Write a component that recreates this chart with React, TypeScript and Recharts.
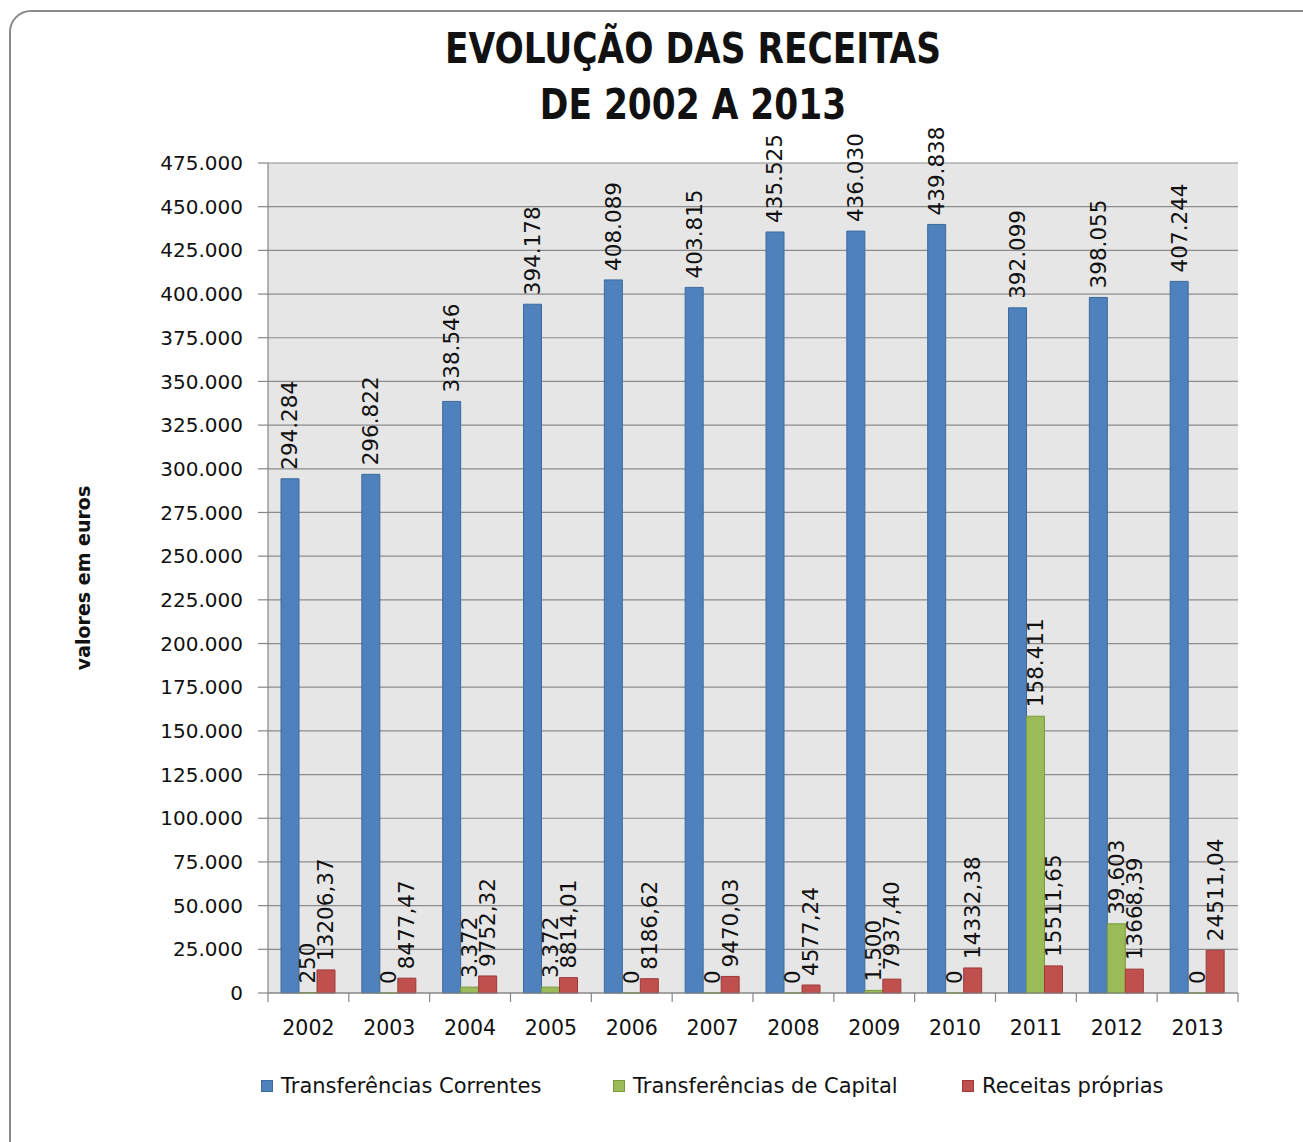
import React from "react";
import { BarChart, Bar, XAxis, YAxis, CartesianGrid, LabelList } from "recharts";

const years = ["2002", "2003", "2004", "2005", "2006", "2007", "2008", "2009", "2010", "2011", "2012", "2013"];
const correntes = [294284, 296822, 338546, 394178, 408089, 403815, 435525, 436030, 439838, 392099, 398055, 407244];
const capital = [250, 0, 3372, 3372, 0, 0, 0, 1500, 0, 158411, 39603, 0];
const proprias = [13206.37, 8477.47, 9752.32, 8814.01, 8186.62, 9470.03, 4577.24, 7937.4, 14332.38, 15511.65, 13668.39, 24511.04];
const yTicks = [0, 25000, 50000, 75000, 100000, 125000, 150000, 175000, 200000, 225000, 250000, 275000, 300000, 325000, 350000, 375000, 400000, 425000, 450000, 475000];

const seriesNames = ["Transferências Correntes", "Transferências de Capital", "Receitas próprias"];
const colors = ["#4F81BD", "#9BBB59", "#C0504D"];
const strokes = ["#3C6A9E", "#7A9A3E", "#9E3B38"];

const data = years.map((y, i) => ({ year: y, a: correntes[i], b: capital[i], c: proprias[i] }));

const W = 1303;
const H = 1142;
const PLOT_LEFT = 268;
const PLOT_RIGHT = 1238;
const PLOT_TOP = 163;
const PLOT_BOTTOM = 993;
const BAND = (PLOT_RIGHT - PLOT_LEFT) / years.length;
const FONT = "'DejaVu Sans', Verdana, sans-serif";

const fmtInt = (v: number) => Math.round(v).toString().replace(/\B(?=(\d{3})+(?!\d))/g, ".");
const fmtDec = (v: number) => v.toFixed(2).replace(".", ",");

const makeLabel = (fmt: (v: number) => string) => (props: any) => {
  const { x, y, width, height, value } = props;
  const cx = Number(x) + Number(width) / 2;
  const top = Math.min(Number(y), Number(y) + Number(height || 0));
  const ty = top - 9;
  return (
    <text
      x={cx}
      y={ty}
      transform={`rotate(-90 ${cx} ${ty})`}
      textAnchor="start"
      dominantBaseline="central"
      fontFamily={FONT}
      fontSize={21.5}
      fill="#111"
    >
      {fmt(Number(value))}
    </text>
  );
};

const XTick = (props: any) => {
  const { x, payload, index } = props;
  const left = x - BAND / 2;
  const right = x + BAND / 2;
  return (
    <g>
      <line x1={left} x2={left} y1={PLOT_BOTTOM} y2={PLOT_BOTTOM + 9} stroke="#868686" strokeWidth={1.2} />
      {index === years.length - 1 && (
        <line x1={right} x2={right} y1={PLOT_BOTTOM} y2={PLOT_BOTTOM + 9} stroke="#868686" strokeWidth={1.2} />
      )}
      <text x={x} y={PLOT_BOTTOM + 42} textAnchor="middle" fontFamily={FONT} fontSize={20.5} fill="#111">
        {payload.value}
      </text>
    </g>
  );
};

export default function App() {
  return (
    <div style={{ position: "fixed", left: 0, top: 0, width: W, height: H, overflow: "hidden", background: "#fff" }}>
      <div
        style={{
          position: "absolute",
          left: 9,
          top: 10,
          width: 1330,
          height: 1170,
          border: "2px solid #8a8a8a",
          borderRadius: 22,
          boxSizing: "border-box",
        }}
      />
      <div
        style={{
          position: "absolute",
          left: 0,
          top: 20,
          width: 1386,
          textAlign: "center",
          fontFamily: "'DejaVu Sans Condensed', 'DejaVu Sans', sans-serif",
          fontWeight: "bold",
          fontSize: 43,
          lineHeight: "56px",
          color: "#111",
          transform: "scaleX(0.89)",
          transformOrigin: "693px 0",
        }}
      >
        EVOLUÇÃO DAS RECEITAS
        <br />
        DE 2002 A 2013
      </div>
      <div
        style={{
          position: "absolute",
          left: 83,
          top: 578,
          transform: "translate(-50%, -50%) rotate(-90deg)",
          whiteSpace: "nowrap",
          fontFamily: FONT,
          fontWeight: "bold",
          fontSize: 19,
          color: "#111",
        }}
      >
        valores em euros
      </div>
      <div style={{ position: "absolute", left: 0, top: 0 }}>
        <BarChart
          width={W}
          height={H}
          data={data}
          margin={{ top: PLOT_TOP, right: W - PLOT_RIGHT, bottom: H - PLOT_BOTTOM - 50, left: 0 }}
          barGap={0}
          barSize={18}
        >
          <CartesianGrid vertical={false} fill="#E6E6E6" stroke="#8C8C8C" strokeWidth={1.2} />
          <XAxis
            dataKey="year"
            height={50}
            tick={<XTick />}
            tickLine={false}
            axisLine={{ stroke: "#868686", strokeWidth: 1.2 }}
            interval={0}
          />
          <YAxis
            width={PLOT_LEFT}
            domain={[0, 475000]}
            ticks={yTicks}
            interval={0}
            tickFormatter={(v: number) => fmtInt(v)}
            tickSize={10}
            tickMargin={15}
            tick={{ fontFamily: FONT, fontSize: 20, fill: "#111" }}
            tickLine={{ stroke: "#868686", strokeWidth: 1.2 }}
            axisLine={{ stroke: "#868686", strokeWidth: 1.2 }}
          />
          <Bar dataKey="a" name={seriesNames[0]} fill={colors[0]} stroke={strokes[0]} strokeWidth={1} isAnimationActive={false}>
            <LabelList dataKey="a" content={makeLabel(fmtInt)} />
          </Bar>
          <Bar
            dataKey="b"
            name={seriesNames[1]}
            fill={colors[1]}
            stroke={strokes[1]}
            strokeWidth={1}
            minPointSize={0.01}
            isAnimationActive={false}
          >
            <LabelList dataKey="b" content={makeLabel(fmtInt)} />
          </Bar>
          <Bar dataKey="c" name={seriesNames[2]} fill={colors[2]} stroke={strokes[2]} strokeWidth={1} isAnimationActive={false}>
            <LabelList dataKey="c" content={makeLabel(fmtDec)} />
          </Bar>
        </BarChart>
      </div>
      {seriesNames.map((name, i) => (
        <div
          key={name}
          style={{
            position: "absolute",
            left: [261, 613, 962][i],
            top: 1074,
            display: "flex",
            alignItems: "center",
            fontFamily: FONT,
            fontSize: 21,
            color: "#111",
            whiteSpace: "nowrap",
          }}
        >
          <span
            style={{
              display: "inline-block",
              width: 12,
              height: 12,
              background: colors[i],
              border: `1px solid ${strokes[i]}`,
              boxSizing: "border-box",
              marginRight: 8,
            }}
          />
          {name}
        </div>
      ))}
    </div>
  );
}
